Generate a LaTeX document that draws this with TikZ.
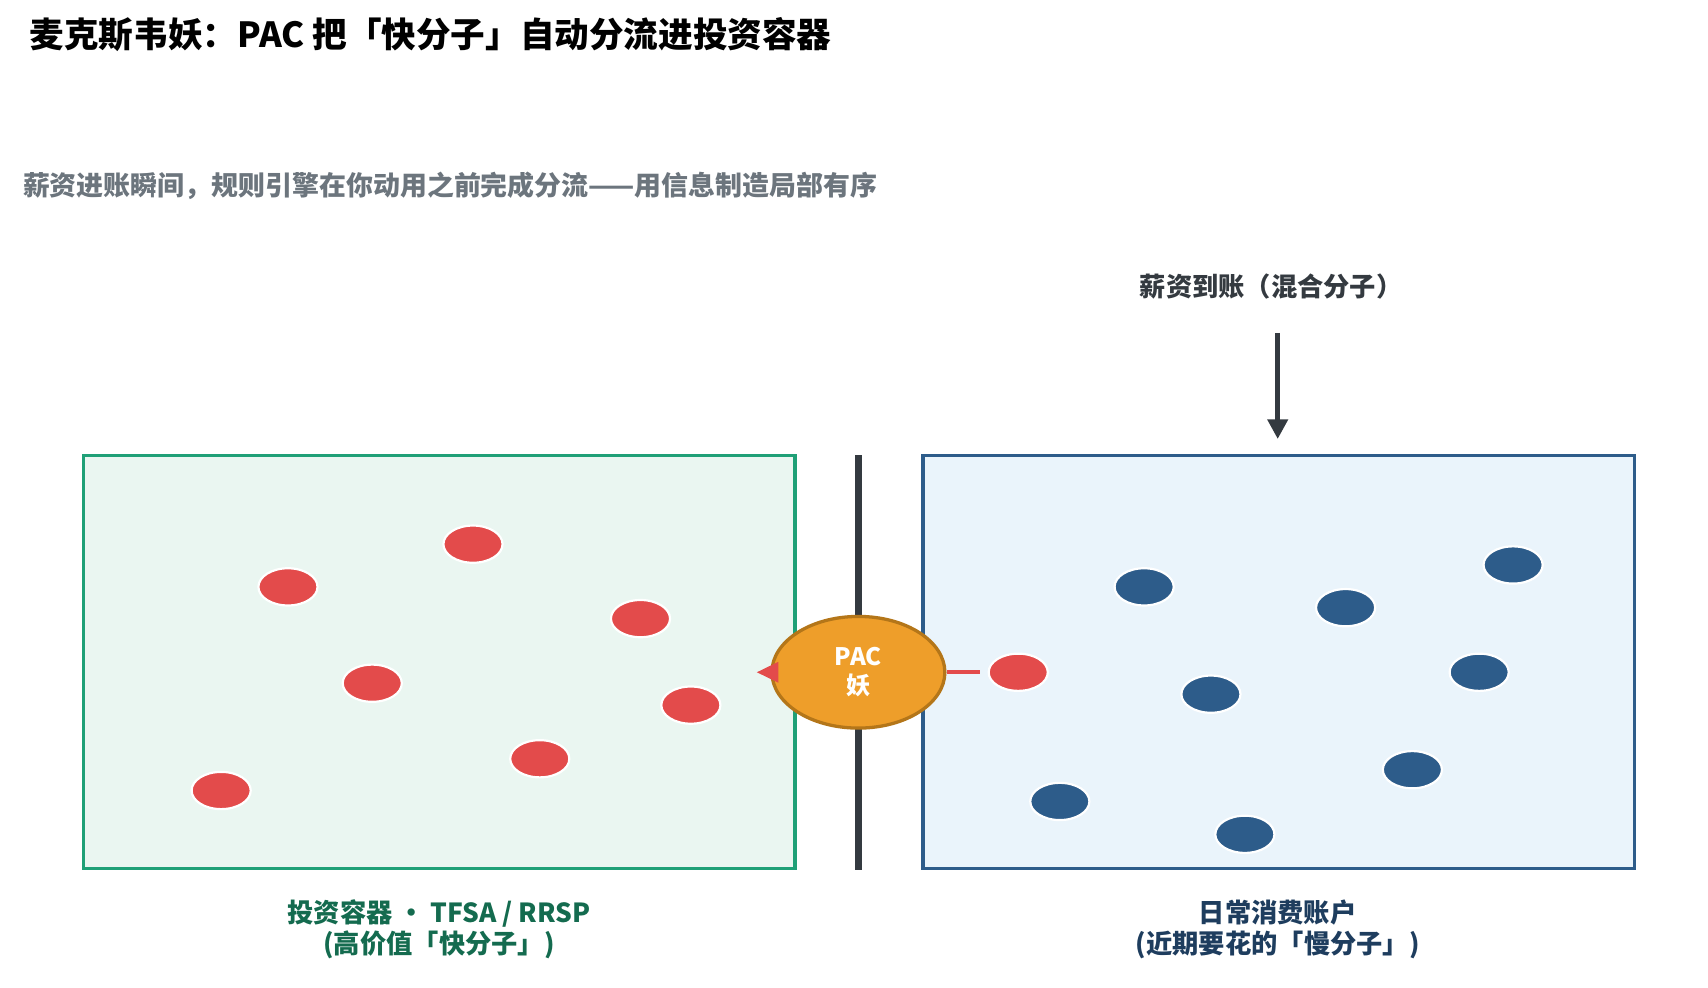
\documentclass[tikz,border=0pt]{standalone}
\usepackage{fontspec}
\setmainfont{Noto Sans CJK SC}
\usepackage{tikz}
\usetikzlibrary{positioning, arrows.meta, calc, shapes.geometric}
\definecolor{dotred}{HTML}{E34B4B}
\definecolor{dotblue}{HTML}{2D5C8A}
\definecolor{boxgreen}{HTML}{1FA077}
\definecolor{fillgreen}{HTML}{EAF6F1}
\definecolor{fillblue}{HTML}{EAF4FB}
\definecolor{demon}{HTML}{EE9E2A}
\definecolor{demonedge}{HTML}{B47619}
\definecolor{ink}{HTML}{343A40}
\definecolor{greytext}{HTML}{6C757D}
\definecolor{labgreen}{HTML}{146B4F}
\definecolor{labblue}{HTML}{1E3D5E}
\tikzset{
    redmol/.style={ellipse, draw=white, line width=1pt, fill=dotred, minimum width=27, minimum height=17, inner sep=0},
    bluemol/.style={ellipse, draw=white, line width=1pt, fill=dotblue, minimum width=27, minimum height=17, inner sep=0},
    caption/.style={align=center, font=\bfseries\fontsize{12}{14}\selectfont}
}
\begin{document}
\begin{tikzpicture}[x=0.5pt, y=-0.5pt]
    \useasboundingbox (0,0) rectangle (1560,902);

    % title and subtitle
    \node[anchor=west, font=\bfseries\fontsize{15.8}{19}\selectfont] (title) at (20,32)
        {麦克斯韦妖：PAC 把「快分子」自动分流进投资容器};
    \node[anchor=west, text=greytext, font=\bfseries\fontsize{12.3}{14}\selectfont] (sub) at (14,170)
        {薪资进账瞬间，规则引擎在你动用之前完成分流——用信息制造局部有序};

    % containers
    \draw[boxgreen, line width=1.5pt, fill=fillgreen] (76,416) rectangle (726,793);
    \draw[dotblue, line width=1.5pt, fill=fillblue] (843,416) rectangle (1493,793);
    \coordinate (wtop) at (784,416);
    \coordinate (wbot) at (784,795);
    \draw[ink, line width=3.5pt] (wtop) -- (wbot);

    % inflow
    \node[text=ink, font=\bfseries\fontsize{12}{14}\selectfont] (pay) at (1161,262) {薪资到账（混合分子）};
    \coordinate (in1) at (1167,304);
    \coordinate (in2) at (1167,401);
    \draw[ink, line width=2.5pt, -{Triangle[length=9pt, width=9pt]}] (in1) -- (in2);

    % molecules
    \foreach \px/\py [count=\i] in {263/536, 432/497, 585/565, 340/624, 631/644, 493/693, 202/722}{
        \node[redmol] (r\i) at (\px,\py) {};
    }
    \foreach \px/\py [count=\i] in {1045/536, 1229/555, 1382/516, 1351/614, 1106/634, 1290/703, 968/732, 1137/762}{
        \node[bluemol] (b\i) at (\px,\py) {};
    }
    \node[redmol] (fast) at (930,614) {};

    % demon
    \node[ellipse, fill=demon, draw=demonedge, line width=1.5pt, minimum width=79, minimum height=51,
          text=white, align=center, inner sep=0, font=\bfseries\fontsize{11}{13}\selectfont] (pac) at (784,614) {PAC\\妖};
    \draw[dotred, line width=2pt] (pac.east) -- (895,614);
    \coordinate (tip) at (691,614);
    \draw[dotred, line width=2pt, -{Triangle[length=10pt, width=9pt]}] (pac.west) -- (tip);

    % captions
    \node[caption, text=labgreen] (lcap) at (401,849) {投资容器 • TFSA / RRSP\\(高价值「快分子」)};
    \node[caption, text=labblue] (rcap) at (1167,849) {日常消费账户\\(近期要花的「慢分子」)};
\end{tikzpicture}
\end{document}
